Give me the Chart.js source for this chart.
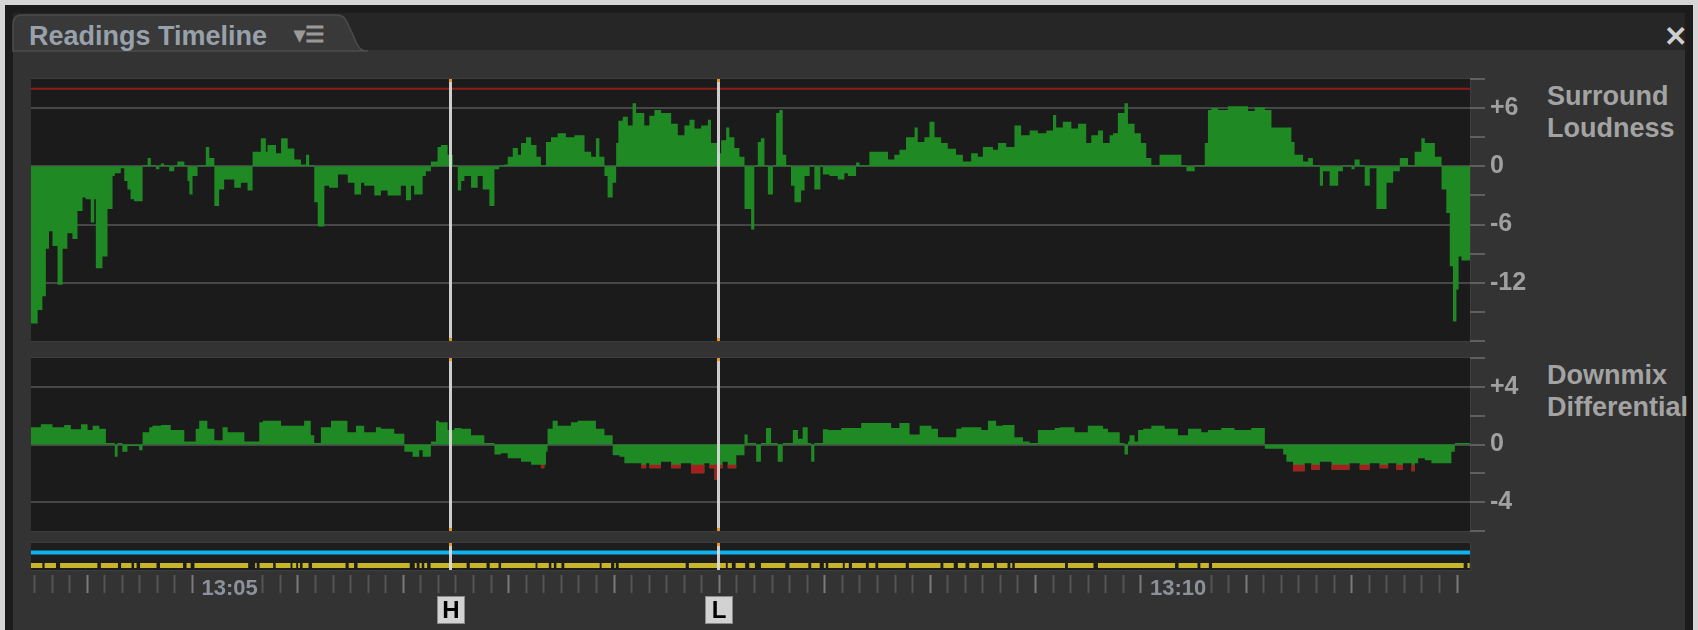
<!DOCTYPE html>
<html>
<head>
<meta charset="utf-8">
<script src="https://cdn.jsdelivr.net/npm/chart.js@4.4.1/dist/chart.umd.min.js"></script>
<style>
html,body{margin:0;padding:0;}
body{width:1698px;height:630px;background:#d6d6d6;position:relative;overflow:hidden;font-family:"Liberation Sans",Arial,sans-serif;}
#frame{position:absolute;left:5px;top:5px;width:1688px;height:625px;background:#1c1c1c;}
#tabbar{position:absolute;left:13px;top:13px;width:1672px;height:37px;background:#262626;}
#panel{position:absolute;left:13px;top:50px;width:1672px;height:580px;background:#333333;}
#tabsvg{position:absolute;left:0;top:0;}
.txt{position:absolute;font-weight:bold;white-space:nowrap;}
#tabtitle{left:29px;top:21px;font-size:27px;color:#98a1ab;}
#tabicon{left:294px;top:22px;font-size:22px;color:#9a9a9a;}
#closex{left:1664px;top:20px;font-size:28px;color:#cfcfcf;}
.side{font-size:27px;line-height:32px;color:#a3a3a3;}
canvas{position:absolute;}
</style>
</head>
<body>
<div id="frame"></div>
<div id="tabbar"></div>
<div id="panel"></div>
<svg id="tabsvg" width="420" height="60">
  <path d="M13,51 L13,24 Q13,15 22,15 L337,15 Q344,15 347,22 L357,44 Q360,51 368,51 Z" fill="#393939" stroke="#4c4c4c" stroke-width="1.5"/>
</svg>
<div class="txt" id="tabtitle">Readings Timeline</div>
<div class="txt" id="tabicon">▾☰</div>
<div class="txt" id="closex">✕</div>
<div class="txt side" style="left:1547px;top:80px;">Surround<br>Loudness</div>
<div class="txt side" style="left:1547px;top:359px;">Downmix<br>Differential</div>

<canvas id="cLoud" width="1509" height="271" style="left:31px;top:75px;"></canvas>
<canvas id="cDown" width="1509" height="183" style="left:31px;top:353px;"></canvas>
<canvas id="cStrip" width="1509" height="92" style="left:31px;top:538px;"></canvas>

<script>
// ---------------- DATA ----------------
// time axis: seconds after 13:00:00
const baseHour = 13;
const viewStart = 248.9;
const viewEnd = 704.1;
const timeLabels = [300, 600];          // 13:05, 13:10
const tickStep = 50 / 9;                // seconds between ruler ticks

// Surround Loudness (relative, LU) – value held from each time to the next
const loudnessTime = [248.9,251.0,252.5,253.6,254.6,255.7,257.3,258.9,260.4,262.0,263.6,265.2,266.2,267.8,268.9,269.4,271.5,273.1,274.7,275.4,277.3,278.4,279.4,280.4,281.5,284.2,285.8,286.8,288.4,289.5,290.0,291.0,292.6,294.2,295.2,297.4,298.4,299.0,300.0,301.6,304.2,305.3,306.9,308.4,310.0,313.2,315.3,317.4,319.0,321.6,323.2,323.7,326.4,328.0,330.1,332.2,334.3,335.9,336.9,338.5,339.6,341.7,343.2,346.0,349.1,351.2,353.3,354.3,357.5,359.6,361.7,365.9,367.5,369.1,370.1,372.8,373.8,375.4,377.5,378.6,380.7,382.3,383.9,385.0,386.0,388.1,390.2,391.8,393.9,395.5,397.0,398.6,399.7,401.3,402.9,403.9,405.5,407.1,408.8,410.2,411.8,413.4,415.5,418.1,420.8,424.0,426.1,427.6,428.7,430.3,431.3,432.9,434.0,434.7,436.1,437.7,439.2,440.3,442.9,444.5,446.1,448.2,451.4,453.5,455.6,457.2,458.8,460.9,463.0,464.0,466.1,467.2,468.8,469.8,471.4,473.0,474.6,476.7,477.7,478.8,479.8,480.9,482.0,483.6,484.6,485.6,486.7,487.8,489.3,490.4,492.5,493.6,495.2,496.7,498.6,499.4,501.5,504.1,506.2,507.3,509.9,511.0,514.1,520.0,522.0,523.6,525.7,528.4,529.4,531.5,533.1,534.7,536.8,538.9,541.5,543.7,546.3,548.4,550.0,553.2,554.8,557.4,560.0,562.1,564.8,567.4,570.1,572.2,573.2,575.3,578.0,580.1,582.7,584.3,586.4,588.0,590.1,591.2,592.7,594.8,595.9,598.0,600.0,601.7,603.3,605.9,612.8,614.4,617.0,620.2,621.2,622.3,624.4,627.5,633.9,636.0,639.2,641.3,647.6,648.6,651.3,652.9,654.4,656.6,657.6,659.7,662.4,663.9,666.6,667.6,669.2,670.8,672.4,674.5,677.7,679.8,681.9,684.5,686.6,688.7,689.8,693.0,695.1,696.6,697.7,698.7,699.8,700.5,701.4,703.0];
const loudnessValue = [-10.6,-16.2,-14.8,-13.4,-8.5,-6.7,-8.2,-12.2,-8.5,-6.9,-7.5,-4.6,-3.2,-3.4,-5.8,-3.4,-10.5,-9.3,-4.4,-1.0,-0.7,-0.2,-1.5,-2.4,-3.4,-3.6,0.1,0.85,0.1,-0.3,0.1,0.3,0.1,-0.5,0.1,0.5,0.1,-1.5,-2.9,-1.0,0.1,2.0,0.85,-4.1,-2.4,-1.35,-2.2,-1.7,-2.5,1.5,2.9,1.5,2.2,1.35,2.9,1.85,0.7,0.2,1.2,0.1,-3.7,-6.2,-2.0,-2.2,-0.85,-1.7,-2.9,-1.7,-2.0,-3.0,-2.5,-3.0,-2.0,-3.5,-2.0,-2.9,-1.0,-0.5,0.5,2.0,2.2,1.2,0.1,-2.5,-1.5,-1.0,-2.2,-1.0,-2.4,-4.1,-0.3,0.1,0.2,1.0,1.9,1.2,2.4,3.0,2.2,1.0,0.1,2.5,3.0,3.4,3.0,3.2,1.5,1.0,2.9,1.0,-1.0,-3.2,-1.7,2.4,4.7,5.1,4.2,6.5,5.5,4.2,5.2,5.8,5.5,4.4,3.2,4.2,4.8,3.9,4.2,4.8,2.4,1.35,2.7,4.0,3.0,1.9,1.0,-4.4,-6.5,0.1,2.5,2.9,0.1,-2.9,0.1,5.5,5.8,1.2,0.1,-2.0,-3.7,-2.5,-1.0,0.1,-2.4,0.1,-0.85,-1.0,-1.35,-0.7,-1.0,0.4,0.1,1.5,0.7,1.2,1.7,3.0,4.0,2.5,3.0,4.6,3.0,2.4,1.8,1.2,0.5,1.35,1.0,2.0,1.7,2.4,2.0,4.2,3.2,3.7,3.4,3.7,5.3,4.0,4.6,3.9,4.4,2.4,3.2,3.7,2.4,3.2,3.4,5.5,6.5,4.4,3.4,2.4,0.85,0.1,1.2,0.1,-0.5,0.1,2.4,5.8,6.0,5.8,6.2,5.7,6.1,5.8,4.0,2.5,1.2,0.5,0.85,0.1,-2.0,-0.5,-2.0,-0.5,0.1,-0.3,0.7,0.1,-2.0,-0.2,-4.4,-1.7,-0.5,0.85,0.1,1.5,2.9,2.4,1.0,-2.4,-4.8,-10.3,-16.0,-12.7,-9.3,-9.7];
const loudnessTarget = 8;

// Downmix Differential (dB) – value held from each time to the next
const downmixTime = [248.9,252.0,255.7,259.4,261.5,264.7,266.8,268.4,270.5,272.6,275.4,276.3,277.8,279.4,283.1,284.2,286.3,287.3,290.0,293.1,297.4,301.0,302.1,304.7,306.9,309.5,311.1,316.4,321.1,322.2,328.0,335.3,337.4,338.5,340.6,343.8,349.0,351.7,354.3,358.0,359.6,363.8,367.0,369.6,371.7,372.8,375.4,377.0,378.0,380.7,382.8,385.0,388.1,392.3,395.5,397.6,399.7,403.9,407.1,410.2,411.3,411.8,412.3,413.9,415.5,419.7,421.8,427.6,430.3,432.9,435.0,436.6,441.9,443.5,444.5,448.2,451.4,454.5,457.7,461.9,463.5,465.1,466.7,467.7,469.3,472.0,474.6,475.6,478.3,479.8,481.4,483.0,485.1,486.7,489.9,491.5,493.0,494.6,495.7,496.7,499.4,501.0,505.2,511.5,521.0,523.6,526.8,530.0,533.7,535.8,541.6,543.2,549.5,551.6,554.2,556.3,560.0,562.7,564.8,567.4,572.7,574.3,579.0,583.2,588.0,589.6,593.3,594.8,595.9,596.4,598.0,599.1,600.7,603.3,607.5,611.7,614.9,619.1,621.2,625.4,629.6,634.9,639.2,645.0,646.0,648.1,651.8,653.9,656.6,660.3,666.0,669.2,672.4,675.5,678.2,680.8,682.9,685.6,686.6,687.7,689.8,691.9,698.2,699.3,700.3];
const downmixValue = [1.1,1.2,1.4,1.2,1.35,1.05,1.4,1.0,1.3,1.1,0.1,-0.85,0.1,-0.5,-0.1,-0.4,0.85,1.2,1.3,1.35,1.0,0.2,1.1,1.65,1.1,0.3,1.2,0.85,0.2,1.55,1.65,1.3,1.65,0.65,0.1,1.2,1.65,0.85,1.3,0.85,1.2,1.1,0.75,-0.5,-0.85,-0.4,-0.85,0.2,1.65,1.55,1.0,1.15,1.1,0.65,0.1,-0.7,-0.6,-0.95,-1.2,-1.4,-1.65,-1.4,-0.5,1.1,1.65,1.3,1.55,1.65,1.1,0.65,-0.75,-0.85,-1.3,-1.65,-1.3,-1.65,-1.2,-1.65,-1.3,-2.0,-1.3,-1.65,-2.45,-1.65,-1.2,-1.65,-0.75,0.7,0.1,-1.2,0.1,1.15,0.1,-1.2,0.1,1.0,0.4,1.2,0.1,-1.2,0.1,1.05,1.0,1.15,1.5,1.15,1.5,0.7,1.3,1.1,0.5,1.1,1.2,1.0,1.65,1.3,1.35,0.5,0.2,0.1,1.0,1.15,1.2,0.85,1.3,1.1,0.85,0.1,-0.7,0.2,0.65,0.2,1.0,1.1,1.3,1.1,0.65,1.1,0.85,1.0,1.15,1.0,1.15,-0.3,-0.7,-1.2,-1.85,-1.3,-1.75,-1.2,-1.75,-1.3,-1.75,-1.3,-1.65,-1.3,-1.75,-1.3,-1.85,-1.3,-0.95,-1.1,-1.3,-0.5,0.1];
const downmixWarn = -1.4;

// Status track (yellow) – active intervals [start, end]
const statusStart = [248.9,253.2,258.1,271.0,277.4,281.5,283.4,289.7,298.1,300.6,319.8,321.2,326.3,331.6,333.4,334.8,337.8,349.4,352.2,370.3,371.8,373.3,375.3,387.7,394.0,397.6,409.1,413.5,415.1,417.6,429.4,433.4,434.8,457.0,469.3,471.8,476.1,479.8,488.8,495.7,499.7,501.1,506.3,508.6,513.9,516.9,526.6,537.5,542.1,545.7,549.7,554.4,558.7,560.1,576.9,586.4,611.9,618.8,622.5,703.3];
const statusEnd   = [252.5,256.8,269.9,276.4,280.7,282.3,288.6,297.0,299.4,317.6,320.3,325.5,331.0,332.8,334.0,336.7,348.4,351.1,368.7,370.9,372.5,374.2,386.7,393.0,396.8,408.5,412.7,414.3,416.7,428.8,432.4,433.9,456.0,468.7,470.6,474.8,477.9,487.5,494.8,498.4,500.3,505.7,507.6,513.0,516.0,525.6,536.6,540.8,544.5,548.7,553.5,557.8,559.3,576.0,585.0,610.8,617.9,621.5,702.1,704.0];

// Cursor markers
const markerLabels = ['H', 'L'];
const markerTimes = [381.3, 466.1];

// ---------------- HELPERS ----------------
const FONT = '"Liberation Sans", Arial, sans-serif';
const NONE = 'rgba(0,0,0,0)';
const toPoints = (ts, vs) => {
  const pts = ts.map((t, i) => ({x: t, y: vs[i]}));
  pts.push({x: viewEnd, y: vs[vs.length - 1]});
  return pts;
};
const fmtTime = v => {
  const m = Math.round(v / 60);
  return baseHour + ':' + String(m).padStart(2, '0');
};

const plotBg = {
  id: 'plotBg',
  beforeDraw(chart, args, o) {
    const {ctx, chartArea: a} = chart;
    const h = o.height || (a.bottom - a.top);
    ctx.save();
    ctx.fillStyle = o.color || '#1b1b1b';
    ctx.fillRect(a.left, a.top, a.right - a.left, h);
    ctx.strokeStyle = '#3d3d3d';
    ctx.lineWidth = 1;
    ctx.strokeRect(a.left - 0.5, a.top - 0.5, a.right - a.left + 1, h + 1);
    ctx.restore();
  }
};

const cursors = {
  id: 'cursors',
  afterDatasetsDraw(chart, args, o) {
    const {ctx, chartArea: a, scales: {x}} = chart;
    const top = a.top, bottom = o.height ? a.top + o.height : a.bottom;
    ctx.save();
    markerTimes.forEach((t, i) => {
      const px = Math.round(x.getPixelForValue(t));
      ctx.fillStyle = 'rgba(220,220,220,0.92)';
      ctx.fillRect(px - 1, top, 3, bottom - top);
      ctx.fillStyle = '#e6951f';
      ctx.fillRect(px - 1, top, 3, 3);
      if (!o.height) ctx.fillRect(px - 1, bottom - 3, 3, 3);
      if (o.boxes) {
        const bx = px - 13, by = a.bottom + 21;
        ctx.fillStyle = '#d2d2d2';
        ctx.fillRect(bx, by, 28, 28);
        ctx.strokeStyle = '#8a8a8a';
        ctx.lineWidth = 1;
        ctx.strokeRect(bx + 0.5, by + 0.5, 27, 27);
        ctx.fillStyle = '#000';
        ctx.font = 'bold 24px ' + FONT;
        ctx.textAlign = 'center';
        ctx.textBaseline = 'middle';
        ctx.fillText(markerLabels[i], px + 1, by + 15);
      }
    });
    ctx.restore();
  }
};

const fixRight = s => { s.width = 70; s.paddingTop = 0; s.paddingBottom = 0; };
const tickFont = {family: FONT, size: 25, weight: 'bold'};

function valueAxis(min, max, step, labelEvery) {
  const labeled = v => Math.abs(v % labelEvery) < 1e-6 && v > min && v < max;
  return {
    position: 'right', min, max, afterFit: fixRight,
    ticks: {stepSize: step, autoSkip: false, color: '#a0a0a0', font: tickFont, padding: 5,
      callback: v => labeled(v) ? (v > 0 ? '+' + v : String(v)) : ''},
    grid: {color: c => labeled(c.tick.value) ? '#474747' : NONE, lineWidth: 2,
      tickLength: 15, tickColor: '#5f5f5f', tickWidth: 2},
    border: {display: false}
  };
}
const xHidden = {type: 'linear', min: viewStart, max: viewEnd, display: false};
const area = {pointRadius: 0, borderWidth: 0, borderColor: NONE, stepped: 'after'};

Chart.defaults.font.family = FONT;

// ---------------- CHART 1 : Surround Loudness ----------------
new Chart(document.getElementById('cLoud'), {
  type: 'line',
  data: {datasets: [
    {data: [{x: viewStart, y: loudnessTarget}, {x: viewEnd, y: loudnessTarget}],
     borderColor: '#8f1c1c', borderWidth: 2, pointRadius: 0, fill: false},
    Object.assign({data: toPoints(loudnessTime, loudnessValue), fill: 'origin',
     backgroundColor: '#1f8a24'}, area)
  ]},
  options: {
    responsive: false, animation: false, devicePixelRatio: 1,
    layout: {padding: {top: 4, bottom: 5, left: 0, right: 0}},
    plugins: {legend: {display: false}, tooltip: {enabled: false}, cursors: {}, plotBg: {}},
    scales: {x: xHidden, y: valueAxis(-18, 9, 3, 6)}
  },
  plugins: [plotBg, cursors]
});

// ---------------- CHART 2 : Downmix Differential ----------------
const downPts = toPoints(downmixTime, downmixValue);
// portion below the warning level is shown in red
const overPts = downPts.map(p => ({x: p.x, y: Math.min(p.y, downmixWarn)}));
new Chart(document.getElementById('cDown'), {
  type: 'line',
  data: {datasets: [
    Object.assign({data: overPts, fill: {value: downmixWarn}, backgroundColor: '#a81d1d', order: 0}, area),
    Object.assign({data: downPts, fill: 'origin', backgroundColor: '#1f8a24', order: 1}, area)
  ]},
  options: {
    responsive: false, animation: false, devicePixelRatio: 1,
    layout: {padding: {top: 5, bottom: 5, left: 0, right: 0}},
    plugins: {legend: {display: false}, tooltip: {enabled: false}, cursors: {}, plotBg: {}},
    scales: {x: xHidden, y: valueAxis(-6, 6, 2, 4)}
  },
  plugins: [plotBg, cursors]
});

// ---------------- CHART 3 : status strip + time ruler ----------------
const statusPts = [];
statusStart.forEach((s, i) => {
  statusPts.push({x: s, y: 1.2}, {x: statusEnd[i], y: 1.2}, {x: statusEnd[i], y: null});
});
const tickIdx = v => Math.round(v / tickStep);
const isLabel = v => timeLabels.some(t => Math.abs(t - v) < 0.01);
new Chart(document.getElementById('cStrip'), {
  type: 'line',
  data: {datasets: [
    {data: [{x: viewStart, y: 2.8}, {x: viewEnd, y: 2.8}], borderColor: '#10b2ef',
     borderWidth: 4, pointRadius: 0, fill: false},
    {data: statusPts, borderColor: '#c9b52a', borderWidth: 5, pointRadius: 0, fill: false,
     spanGaps: false, borderCapStyle: 'butt'}
  ]},
  options: {
    responsive: false, animation: false, devicePixelRatio: 1,
    layout: {padding: {top: 5, bottom: 0, left: 0, right: 70}},
    plugins: {legend: {display: false}, tooltip: {enabled: false},
      cursors: {height: 27, boxes: true}, plotBg: {height: 27, color: '#1d1d1d'}},
    scales: {
      x: {type: 'linear', min: viewStart, max: viewEnd, position: 'bottom',
        afterFit: s => { s.height = 55; s.paddingLeft = 0; s.paddingRight = 0; },
        ticks: {stepSize: tickStep, autoSkip: false, maxRotation: 0, minRotation: 0,
          includeBounds: false, align: 'start', labelOffset: 9, padding: -17,
          color: '#8b929a', font: {family: FONT, size: 22, weight: 'bold'},
          callback: v => isLabel(v) ? fmtTime(v) : ''},
        grid: {drawOnChartArea: false, tickLength: 18, tickWidth: 2,
          tickColor: c => {
            const k = tickIdx(c.tick.value), r = ((k % 54) + 54) % 54;
            if (r >= 1 && r <= 3) return NONE;
            return k % 6 === 0 ? '#7a7a7a' : '#545454';
          }},
        border: {display: false}
      },
      y: {display: false, min: 0, max: 4}
    }
  },
  plugins: [plotBg, cursors]
});
</script>
</body>
</html>
